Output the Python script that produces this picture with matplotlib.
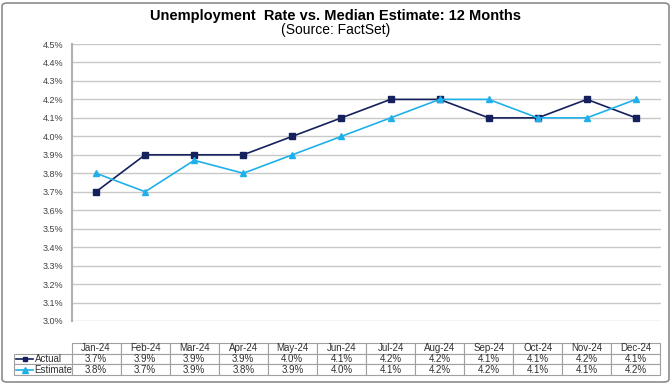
import matplotlib.pyplot as plt
import matplotlib.ticker as mticker
from matplotlib.lines import Line2D
from matplotlib.patches import FancyBboxPatch

plt.rcParams['font.family'] = ['Liberation Sans', 'DejaVu Sans']

months = ['Jan-24', 'Feb-24', 'Mar-24', 'Apr-24', 'May-24', 'Jun-24',
          'Jul-24', 'Aug-24', 'Sep-24', 'Oct-24', 'Nov-24', 'Dec-24']
actual = [3.7, 3.9, 3.9, 3.9, 4.0, 4.1, 4.2, 4.2, 4.1, 4.1, 4.2, 4.1]
estimate = [3.8, 3.7, 3.87, 3.8, 3.9, 4.0, 4.1, 4.2, 4.2, 4.1, 4.1, 4.2]
series_names = ['Actual', 'Estimate']
yticks = [3.0 + 0.1 * i for i in range(16)]

c_act = '#14215c'
c_est = '#1fb0ea'

W, H = 672, 384
fig = plt.figure(figsize=(W / 100, H / 100), dpi=100)

# frame round the whole chart
fig.patches.append(FancyBboxPatch((2 / W, 2 / H), 1 - 5 / W, 1 - 5 / H,
                                  boxstyle='round,pad=0,rounding_size=0.008',
                                  transform=fig.transFigure, fill=False,
                                  edgecolor='#8c8c8c', lw=1.2))

fig.text(0.5, 1 - 16 / H, 'Unemployment  Rate vs. Median Estimate: 12 Months',
         ha='center', va='center', fontsize=10.5, fontweight='bold')
fig.text(0.5, 1 - 30 / H, '(Source: FactSet)', ha='center', va='center', fontsize=10)

# plot area
x0, x1 = 71.5, 660.5
y_top, y_bot = 44, 321
ax = fig.add_axes([x0 / W, 1 - y_bot / H, (x1 - x0) / W, (y_bot - y_top) / H])
x = range(len(months))
ax.plot(x, actual, color=c_act, marker='s', markersize=4, lw=1.2)
ax.plot(x, estimate, color=c_est, marker='^', markersize=4.5, lw=1.2)
ax.set_xlim(-0.5, len(months) - 0.5)
ax.set_ylim(3.0, 4.5)
ax.set_yticks(yticks)
ax.yaxis.set_major_formatter(mticker.FuncFormatter(lambda v, p: f'{v:.1f}%'))
ax.set_xticks([])
ax.grid(axis='y', color='#c8c8c8', lw=1)
ax.set_axisbelow(True)
for s in ['top', 'right', 'bottom']:
    ax.spines[s].set_visible(False)
ax.spines['left'].set_color('#b0b0b0')
ax.spines['left'].set_linewidth(1.5)
ax.tick_params(axis='y', length=0, labelsize=6.5, labelcolor='#404040', pad=6)

# data table under the chart
t_left, t_top, t_bot = 14, 343, 375
tax = fig.add_axes([t_left / W, 1 - t_bot / H, (x1 - t_left) / W, (t_bot - t_top) / H])
tax.axis('off')
rows = [[''] + months,
        [''] + [f'{v:.1f}%' for v in actual],
        [''] + [f'{v:.1f}%' for v in estimate]]
lab_w = x0 - t_left
col_w = (x1 - x0) / len(months)
widths = [lab_w / (x1 - t_left)] + [col_w / (x1 - t_left)] * len(months)
tbl = tax.table(cellText=rows, colWidths=widths, bbox=[0, 0, 1, 1], cellLoc='center')
tbl.auto_set_font_size(False)
for (r, c), cell in tbl.get_celld().items():
    cell.set_fontsize(7)
    cell.set_edgecolor('#a0a0a0')
    cell.set_linewidth(0.8)
    cell.get_text().set_color('#303030')
    if r == 0 and c == 0:
        cell.visible_edges = ''

# legend keys and names inside row label cells
for i, (name, col, mk, ms) in enumerate([(series_names[0], c_act, 's', 3.5),
                                          (series_names[1], c_est, '^', 4)]):
    yc = 1 - (t_top + (t_bot - t_top) * (1.5 + i) / 3) / H
    fig.add_artist(Line2D([16 / W, 33 / W], [yc, yc], color=col, lw=1.2,
                          transform=fig.transFigure))
    fig.add_artist(Line2D([24.5 / W], [yc], color=col, marker=mk, markersize=ms,
                          transform=fig.transFigure))
    fig.text(34.5 / W, yc, name, ha='left', va='center', fontsize=7, color='#303030')

fig.savefig('out.png', dpi=100)
